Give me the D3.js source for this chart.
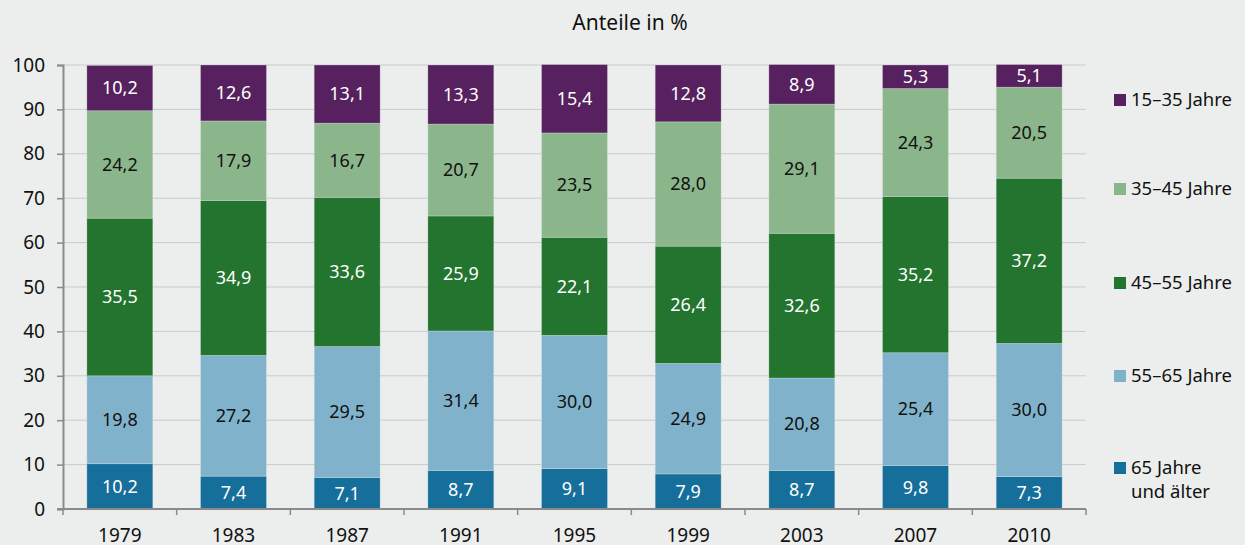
<!DOCTYPE html>
<html>
<head>
<meta charset="utf-8">
<script src="https://cdn.jsdelivr.net/npm/d3@7"></script>
<style>
  html, body { margin: 0; padding: 0; background: #eceeed; }
  svg { display: block; font-family: "Noto Sans", "Open Sans", sans-serif; }
</style>
</head>
<body>
<svg id="chart" width="1245" height="545"></svg>
<script>
// ===== Data =====
const years = ['1979', '1983', '1987', '1991', '1995', '1999', '2003', '2007', '2010'];

// bottom -> top
const groups = ['65 Jahre und älter', '55–65 Jahre', '45–55 Jahre', '35–45 Jahre', '15–35 Jahre'];

const age65plus = [10.2, 7.4, 7.1, 8.7, 9.1, 7.9, 8.7, 9.8, 7.3];
const age55to65 = [19.8, 27.2, 29.5, 31.4, 30.0, 24.9, 20.8, 25.4, 30.0];
const age45to55 = [35.5, 34.9, 33.6, 25.9, 22.1, 26.4, 32.6, 35.2, 37.2];
const age35to45 = [24.2, 17.9, 16.7, 20.7, 23.5, 28.0, 29.1, 24.3, 20.5];
const age15to35 = [10.2, 12.6, 13.1, 13.3, 15.4, 12.8, 8.9, 5.3, 5.1];

const yTicks = [0, 10, 20, 30, 40, 50, 60, 70, 80, 90, 100];

// ===== Styling =====
const colors = ['#166e9a', '#80b3cb', '#22742e', '#8bb68b', '#56215e'];
const labelColors = ['#fff', '#111', '#fff', '#111', '#fff'];

const series = [age65plus, age55to65, age45to55, age35to45, age15to35];

const rows = years.map((yr, i) => {
    const row = { year: yr };
    groups.forEach((gName, k) => { row[gName] = series[k][i]; });
    return row;
});

const stacked = d3.stack().keys(groups)(rows);

const margin = { left: 63, right: 1245 - 1086, top: 65, bottom: 545 - 509 };
const svg = d3.select('#chart');

const x = d3.scaleBand()
    .domain(years)
    .range([margin.left, 1086])
    .paddingInner(0.42)
    .paddingOuter(0.21);

const y = d3.scaleLinear()
    .domain([0, 100])
    .range([509, 65]);

// Title
svg.append('text')
    .attr('x', 630).attr('y', 30)
    .attr('text-anchor', 'middle')
    .style('font-size', '21px')
    .style('fill', '#111')
    .text('Anteile in %');

// Gridlines
svg.append('g')
    .selectAll('line')
    .data(yTicks.filter(t => t > 0))
    .join('line')
    .attr('x1', margin.left).attr('x2', 1086)
    .attr('y1', d => y(d)).attr('y2', d => y(d))
    .style('stroke', '#c9cbca')
    .style('stroke-width', '1px');

// Bars
const layer = svg.append('g')
    .selectAll('g.layer')
    .data(stacked)
    .join('g')
    .attr('class', 'layer');

layer.selectAll('rect')
    .data((d, k) => d.map(p => ({ p, k })))
    .join('rect')
    .attr('x', d => x(d.p.data.year))
    .attr('width', x.bandwidth())
    .attr('y', d => y(d.p[1]))
    .attr('height', d => y(d.p[0]) - y(d.p[1]))
    .style('fill', d => colors[d.k])
    .style('stroke', '#eceeed')
    .style('stroke-opacity', 0.35)
    .style('stroke-width', '0.8px');

// Value labels
layer.selectAll('text')
    .data((d, k) => d.map(p => ({ p, k })))
    .join('text')
    .attr('x', d => x(d.p.data.year) + x.bandwidth() / 2)
    .attr('y', d => y((d.p[0] + d.p[1]) / 2))
    .attr('dy', '0.35em')
    .attr('text-anchor', 'middle')
    .style('font-size', '18px')
    .style('fill', d => labelColors[d.k])
    .text(d => d3.format('.1f')(d.p[1] - d.p[0]).replace('.', ','));

// Y axis
const yAxis = svg.append('g')
    .attr('transform', `translate(${margin.left},0)`)
    .call(d3.axisLeft(y).tickValues(yTicks).tickSize(6).tickPadding(12).tickFormat(d3.format('d')));
yAxis.select('.domain').style('stroke', '#8a8a8a').style('stroke-width', '2px');
yAxis.selectAll('.tick line').style('stroke', '#8a8a8a').style('stroke-width', '1.5px');
yAxis.selectAll('.tick text')
    .style('font-size', '19px')
    .style('fill', '#111')
    .style('font-family', '"Noto Sans", "Open Sans", sans-serif');

// X axis with ticks at band boundaries
const xAxisG = svg.append('g').attr('transform', `translate(0,${y(0)})`);
const step = x.step();
const boundaries = d3.range(years.length + 1).map(i => margin.left + i * step);
xAxisG.append('line')
    .attr('x1', margin.left - 6).attr('x2', 1086)
    .attr('y1', 0).attr('y2', 0)
    .style('stroke', '#8a8a8a').style('stroke-width', '2px');
xAxisG.selectAll('line.tk')
    .data(boundaries)
    .join('line')
    .attr('class', 'tk')
    .attr('x1', d => d).attr('x2', d => d)
    .attr('y1', 0).attr('y2', 6)
    .style('stroke', '#8a8a8a').style('stroke-width', '1.5px');
xAxisG.selectAll('text')
    .data(years)
    .join('text')
    .attr('x', d => x(d) + x.bandwidth() / 2)
    .attr('y', 33)
    .attr('text-anchor', 'middle')
    .style('font-size', '19px')
    .style('fill', '#111')
    .text(d => d);

// Legend (top -> bottom)
const legendY = [100, 189, 283, 376, 468];
const legendItems = groups.slice().reverse();
const legendColors = colors.slice().reverse();
const legend = svg.append('g')
    .selectAll('g')
    .data(legendItems)
    .join('g')
    .attr('transform', (d, i) => `translate(1114,${legendY[i]})`);

legend.append('rect')
    .attr('x', 0).attr('y', -6)
    .attr('width', 12).attr('height', 12)
    .style('fill', (d, i) => legendColors[i]);

legend.append('text')
    .attr('x', 17).attr('y', 0)
    .attr('dy', '0.35em')
    .style('font-size', '18.5px')
    .style('fill', '#111')
    .each(function(d) {
        const t = d3.select(this);
        if (d === '65 Jahre und älter') {
            t.append('tspan').attr('x', 17).text('65 Jahre');
            t.append('tspan').attr('x', 17).attr('dy', '24').text('und älter');
        } else {
            t.text(d);
        }
    });
</script>
</body>
</html>
